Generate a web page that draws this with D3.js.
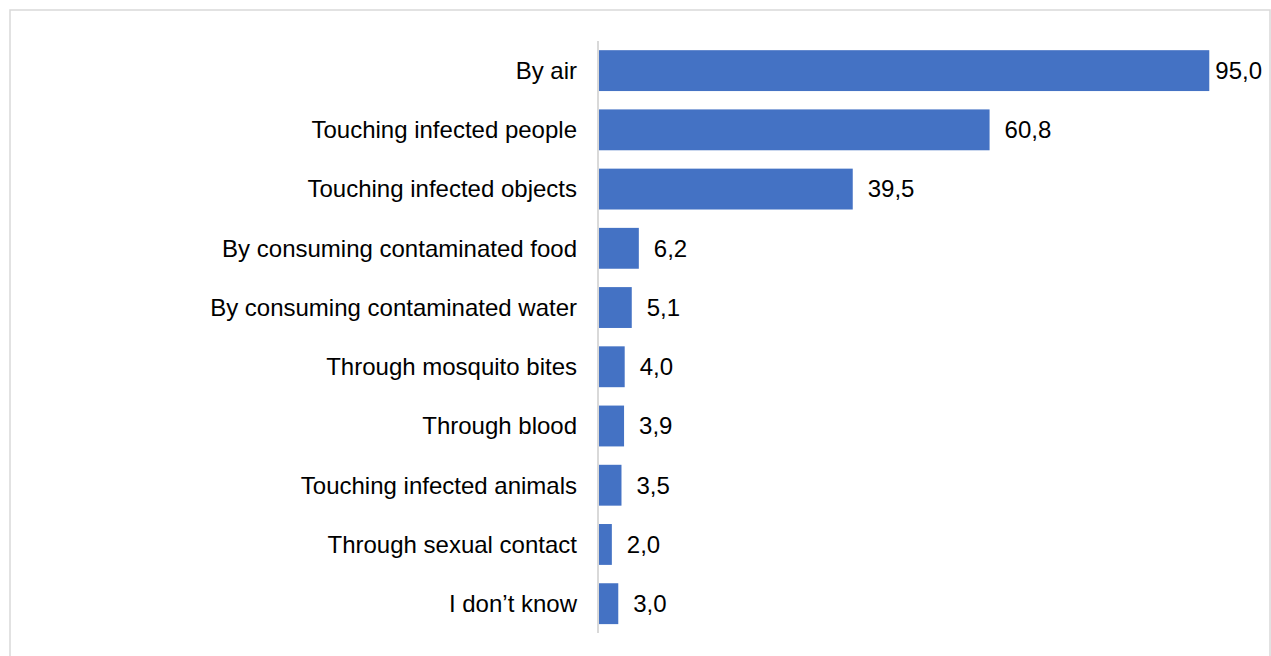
<!DOCTYPE html>
<html>
<head>
<meta charset="utf-8">
<script src="https://cdn.jsdelivr.net/npm/d3@7"></script>
<style>
  html, body { margin: 0; padding: 0; background: #fff; }
  svg { display: block; }
  text { font-family: "Liberation Sans", Arial, sans-serif; }
</style>
</head>
<body>
<svg id="chart" width="1271" height="656"></svg>
<script>
// Ways of transmission (percent of respondents)
const categories = [
  "By air",
  "Touching infected people",
  "Touching infected objects",
  "By consuming contaminated food",
  "By consuming contaminated water",
  "Through mosquito bites",
  "Through blood",
  "Touching infected animals",
  "Through sexual contact",
  "I don\u2019t know"
];
const values = [95.0, 60.8, 39.5, 6.2, 5.1, 4.0, 3.9, 3.5, 2.0, 3.0];

const svg = d3.select("#chart");
const W = 1271, H = 656;

// chart frame
svg.append("rect")
  .attr("x", 10).attr("y", 10)
  .attr("width", 1260).attr("height", 670)
  .attr("fill", "#fff")
  .attr("stroke", "#d9d9d9")
  .attr("stroke-width", 1.5);

const x0 = 599;
const x = d3.scaleLinear().domain([0, 100]).range([x0, x0 + 642.4]);
const y = d3.scaleBand()
  .domain(categories)
  .range([41, 633.3])
  .paddingInner(0.31)
  .paddingOuter(0.155);

// bars
svg.append("g").selectAll("rect")
  .data(categories)
  .join("rect")
  .attr("x", x(0))
  .attr("y", d => y(d))
  .attr("width", (d, i) => x(values[i]) - x(0))
  .attr("height", y.bandwidth())
  .attr("fill", "#4472C4");

// category axis
const yAxis = d3.axisLeft(y).tickSize(0).tickPadding(21);
const gy = svg.append("g")
  .attr("transform", `translate(${x0 - 1},0)`)
  .call(yAxis);
gy.select(".domain")
  .attr("d", `M0,41V633`)
  .attr("stroke", "#d9d9d9")
  .attr("stroke-width", 2);
gy.selectAll(".tick text")
  .attr("font-size", 24)
  .attr("fill", "#000")
  .attr("dy", "0.35em")
  .style("font-family", "'Liberation Sans', Arial, sans-serif");

// value labels
const fmt = v => v.toFixed(1).replace(".", ",");
const labels = svg.append("g").selectAll("text")
  .data(categories)
  .join("text")
  .attr("y", d => y(d) + y.bandwidth() / 2)
  .attr("dy", "0.35em")
  .attr("font-size", 24)
  .attr("fill", "#000")
  .text((d, i) => fmt(values[i]));

labels.each(function (d, i) {
  const w = this.getComputedTextLength();
  const px = Math.min(x(values[i]) + 15, 1262 - w);
  d3.select(this).attr("x", px);
});
</script>
</body>
</html>
